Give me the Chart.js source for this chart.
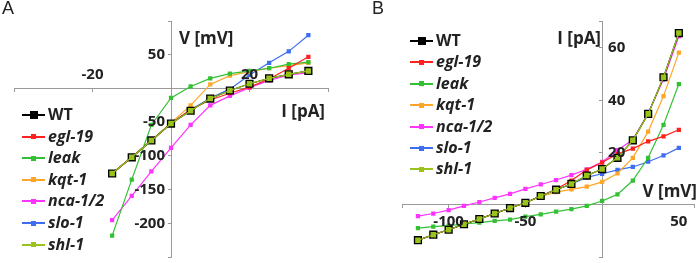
<!DOCTYPE html>
<html>
<head>
<meta charset="utf-8">
<script src="https://cdn.jsdelivr.net/npm/chart.js@4.4.0/dist/chart.umd.min.js"></script>
<style>
  body { margin: 0; background: #fff; }
  #wrap { position: relative; width: 700px; height: 263px; overflow: hidden; font-family: "Open Sans", sans-serif; color: #222; }
  canvas { position: absolute; top: 0; }
  .letter { position: absolute; top: -2px; font-family: "Liberation Sans", sans-serif; font-size: 18px; }
  .legend { position: absolute; font-weight: bold; font-size: 16px; }
  .item { position: absolute; left: 0; height: 20px; white-space: nowrap; }
  .line { position: absolute; left: 0; top: 9px; width: 23px; height: 2px; }
  .mark { position: absolute; }
  .txt { position: absolute; left: 26px; top: -2px; line-height: 22px; }
</style>
</head>
<body>
<div id="wrap">
  <canvas id="chartA" width="350" height="263" style="left:0"></canvas>
  <canvas id="chartB" width="350" height="263" style="left:350px"></canvas>
  <div class="letter" style="left:2px">A</div>
  <div class="letter" style="left:372px">B</div>
  <div class="legend" id="legendA" style="left:22px; top:105px"></div>
  <div class="legend" id="legendB" style="left:410px; top:31px"></div>
</div>
<script>
// series names and colours
const names = ['WT', 'egl-19', 'leak', 'kqt-1', 'nca-1/2', 'slo-1', 'shl-1'];
const colors = ['#000000', '#ff2020', '#33c133', '#ffa628', '#ff33ff', '#3d6ef0', '#99c21c'];

// panel A: current [pA] -> voltage [mV]
const currentA = [-15, -10, -5, 0, 5, 10, 15, 20, 25, 30, 35];
const wtA    = [-126, -102, -77, -52, -33, -15, -3, 7, 15, 21, 26];
const egl19A = [-126, -102, -77, -52, -31, -17, -7, 2, 14, 30, 47];
const leakA  = [-218, -135, -54, -14, 3, 15, 22, 26, 30, 36, 39];
const kqt1A  = [-126, -102, -77, -51, -25, 6, 19, 25, 30, 34, 38];
const nca12A = [-195, -159, -123, -88, -54, -25, -11, 1, 12, 20, 23];
const slo1A  = [-126, -102, -77, -52, -32, -14, -1, 20, 38, 55, 79];
const shl1A  = [-126, -102, -77, -52, -33, -15, -3, 7, 15, 21, 26];
const xTicksA = [-20, 20];
const yTicksA = [50, -50, -100, -150, -200];

// panel B: voltage [mV] -> current [pA]
const voltageB = [-120, -110, -100, -90, -80, -70, -60, -50, -40, -30, -20, -10, 0, 10, 20, 30, 40, 50];
const wtB    = [-13.5, -11.4, -9.5, -7.4, -5.4, -3.3, -1.2, 0.8, 3.4, 5.8, 8.0, 11.2, 13.7, 18.0, 24.7, 34.8, 48.8, 65.7];
const egl19B = [-13.5, -11.4, -9.5, -7.4, -5.4, -3.3, -1.2, 0.8, 3.4, 6.0, 9.3, 13.4, 16.2, 19.5, 21.5, 24.3, 26.2, 28.7];
const leakB  = [-8.9, -8.3, -7.9, -7.3, -6.8, -6.1, -5.6, -4.5, -3.6, -2.6, -1.6, -0.4, 1.5, 4.0, 9.3, 18.0, 30.6, 46.2];
const kqt1B  = [-13.5, -11.4, -9.5, -7.4, -5.4, -3.3, -1.2, 0.8, 3.2, 4.9, 5.9, 7.0, 8.8, 12.0, 18.0, 28.0, 41.6, 58.2];
const nca12B = [-4.3, -3.3, -2.0, -0.4, 1.1, 2.7, 4.2, 6.1, 7.8, 9.5, 11.4, 13.6, 16.4, 20.9, 24.9, 35.0, 48.0, 64.5];
const slo1B  = [-13.5, -11.4, -9.5, -7.4, -5.4, -3.3, -1.2, 0.8, 3.4, 5.8, 8.0, 10.5, 11.9, 13.4, 14.5, 16.5, 18.9, 21.8];
const shl1B  = [-13.5, -11.4, -9.5, -7.4, -5.4, -3.3, -1.2, 0.8, 3.4, 5.8, 8.0, 11.2, 13.7, 18.0, 24.7, 34.8, 48.8, 65.7];
const xTicksB = [-100, -50, 50];
const yTicksB = [20, 40, 60];

const TXT = '#222';
const FONT = '"Open Sans", sans-serif';

function makeDatasets(xs, series) {
    return series.map((vals, i) => {
        const ds = {
            label: names[i],
            data: xs.map((x, j) => ({x: x, y: vals[j]})),
            borderColor: colors[i],
            backgroundColor: colors[i],
            borderWidth: 1.2,
            pointStyle: 'rect',
            pointRadius: 3,
            pointBorderWidth: 0,
            tension: 0,
            showLine: true,
            order: i + 1
        };
        if (i === 0) { ds.pointRadius = 5.8; ds.order = 1; }     // WT big black squares
        if (i === 6) { ds.pointRadius = 3.9; ds.order = 0; }     // shl-1 on top
        return ds;
    });
}

// tick labels and axis titles drawn at the axes crossing
const axisText = {
    id: 'axisText',
    afterDraw(chart, args, o) {
        const ctx = chart.ctx;
        const xs = chart.scales.x, ys = chart.scales.y;
        const x0 = xs.getPixelForValue(0), y0 = ys.getPixelForValue(0);
        ctx.save();
        ctx.fillStyle = TXT;
        ctx.font = 'bold 15px ' + FONT;
        ctx.textBaseline = 'middle';
        ctx.textAlign = 'center';
        o.xTicks.forEach(v => ctx.fillText(String(v), xs.getPixelForValue(v), y0 + o.xDy));
        ctx.textAlign = o.yAlign;
        o.yTicks.forEach(v => ctx.fillText(String(v), x0 + o.yDx, ys.getPixelForValue(v)));
        ctx.font = 'bold 17px ' + FONT;
        o.titles.forEach(t => {
            ctx.textAlign = t.align;
            ctx.fillText(t.text, t.x, t.y);
        });
        ctx.restore();
    }
};

function axis(min, max, step) {
    return {
        type: 'linear',
        min: min, max: max,
        ticks: {display: false, stepSize: step},
        grid: {drawOnChartArea: false, drawTicks: true, tickLength: 3, color: '#9a9a9a'},
        border: {color: '#9a9a9a', width: 1},
        afterFit: s => { if (s.isHorizontal()) s.height = 0; else s.width = 0; }
    };
}

function makeChart(id, datasets, xr, yr, padding, textOpts) {
    const xAx = axis(xr[0], xr[1], xr[2]);
    const yAx = axis(yr[0], yr[1], yr[2]);
    xAx.position = {y: 0};
    yAx.position = {x: 0};
    return new Chart(document.getElementById(id), {
        type: 'scatter',
        data: {datasets: datasets},
        options: {
            responsive: false,
            animation: false,
            devicePixelRatio: 1,
            layout: {padding: padding},
            plugins: {legend: {display: false}, tooltip: {enabled: false}, axisText: textOpts},
            scales: {x: xAx, y: yAx}
        },
        plugins: [axisText]
    });
}

makeChart('chartA',
    makeDatasets(currentA, [wtA, egl19A, leakA, kqt1A, nca12A, slo1A, shl1A]),
    [-40, 40, 20], [-250, 100, 50],
    {left: 14, right: 22, top: 21, bottom: 0},
    {
        xTicks: xTicksA, yTicks: yTicksA, xDy: -14, yDx: -6, yAlign: 'right',
        titles: [
            {text: 'V [mV]', x: 179, y: 39, align: 'left'},
            {text: 'I [pA]', x: 325, y: 112, align: 'right'}
        ]
    });

makeChart('chartB',
    makeDatasets(voltageB, [wtB, egl19B, leakB, kqt1B, nca12B, slo1B, shl1B]),
    [-130, 60, 50], [-20, 70, 20],
    {left: 52.6, right: 1.6, top: 21.8, bottom: 1.8},
    {
        xTicks: xTicksB, yTicks: yTicksB, xDy: 17, yDx: 6, yAlign: 'left',
        titles: [
            {text: 'I [pA]', x: 251, y: 39, align: 'right'},
            {text: 'V [mV]', x: 347, y: 192, align: 'right'}
        ]
    });

// html legends
function buildLegend(id, step) {
    const box = document.getElementById(id);
    names.forEach((n, i) => {
        const it = document.createElement('div');
        it.className = 'item';
        it.style.top = (i * step) + 'px';
        const ln = document.createElement('span');
        ln.className = 'line';
        ln.style.background = colors[i];
        const mk = document.createElement('span');
        mk.className = 'mark';
        const sz = i === 0 ? 8 : 5;
        mk.style.width = sz + 'px';
        mk.style.height = sz + 'px';
        mk.style.left = (11.5 - sz / 2) + 'px';
        mk.style.top = (10 - sz / 2) + 'px';
        mk.style.background = colors[i];
        const tx = document.createElement('span');
        tx.className = 'txt';
        tx.textContent = n;
        if (i > 0) tx.style.fontStyle = 'italic';
        it.appendChild(ln);
        it.appendChild(mk);
        it.appendChild(tx);
        box.appendChild(it);
    });
}
buildLegend('legendA', 21.6);
buildLegend('legendB', 21.4);
</script>
</body>
</html>
